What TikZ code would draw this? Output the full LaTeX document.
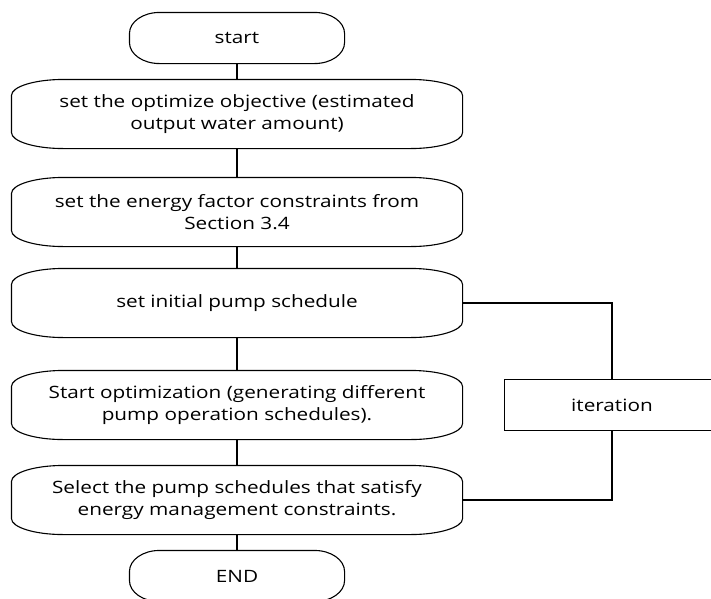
\documentclass[tikz,border=0pt]{standalone}
\usepackage{fontspec}
\setmainfont{Open Sans}[FakeStretch=1.22]
\usetikzlibrary{positioning}

\begin{document}
\begin{tikzpicture}[x=1pt, y=1pt, line width=1.1pt]
    \tikzset{
      flowbox/.style={minimum width=450pt, minimum height=68pt, inner sep=0pt, align=center,
        font=\fontsize{17}{22.5}\selectfont},
      terminal/.style={flowbox, minimum width=214pt, minimum height=50pt},
      loopbox/.style={draw, flowbox, minimum width=215pt, minimum height=51pt}
    }
    \useasboundingbox (0,0) rectangle (711,-598);

    \node (start) [terminal] at (237,-38) {start};
    \node (objective) [flowbox] at (237,-114) {set the optimize objective (estimated\\output water amount)};
    \node (constraints) [flowbox] at (237,-212) {set the energy factor constraints from\\Section 3.4};
    \node (initial) [flowbox] at (237,-303) {set initial pump schedule};
    \node (optimize) [flowbox] at (237,-405) {Start optimization (generating different\\pump operation schedules).};
    \node (select) [flowbox] at (237,-500) {Select the pump schedules that satisfy\\energy management constraints.};
    \node (stop) [terminal] at (237,-576) {END};
    \node (iter) [loopbox] at (612,-405) {iteration};

    % outlines with flat elliptic corners
    \foreach \n/\rx/\ry in {start/30/21, objective/52/16, constraints/52/16, initial/52/16,
        optimize/52/16, select/52/16, stop/30/21}
      \draw ([xshift=\rx]\n.north west) -- ([xshift=-\rx]\n.north east)
        arc[start angle=90, end angle=0, x radius=\rx, y radius=\ry]
        -- ([yshift=\ry]\n.south east)
        arc[start angle=0, end angle=-90, x radius=\rx, y radius=\ry]
        -- ([xshift=\rx]\n.south west)
        arc[start angle=270, end angle=180, x radius=\rx, y radius=\ry]
        -- ([yshift=-\ry]\n.north west)
        arc[start angle=180, end angle=90, x radius=\rx, y radius=\ry] -- cycle;

    \draw (start) -- (objective);
    \draw (objective) -- (constraints);
    \draw (constraints) -- (initial);
    \draw (initial) -- (optimize);
    \draw (optimize) -- (select);
    \draw (select) -- (stop);
    \draw (initial.east) -| (iter.north);
    \draw (iter.south) |- (select.east);
\end{tikzpicture}
\end{document}
